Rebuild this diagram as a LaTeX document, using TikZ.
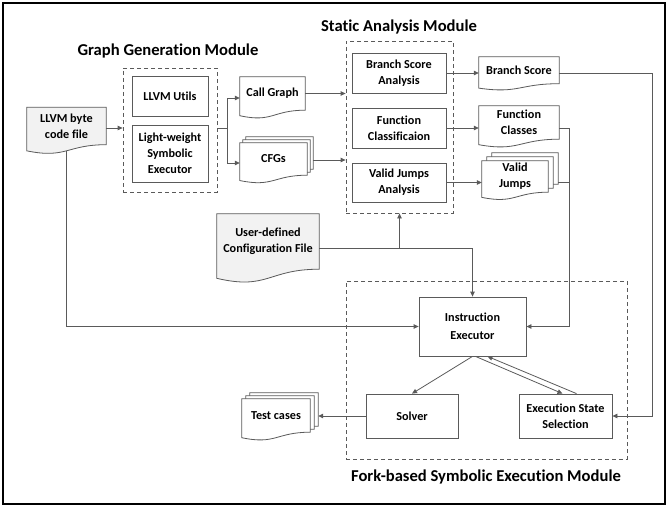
\documentclass[tikz,border=0pt]{standalone}
\usepackage{fontspec}
\setmainfont{Carlito}[Ligatures=NoCommon]
\usetikzlibrary{calc,backgrounds,arrows.meta}
\definecolor{ln}{RGB}{90,90,90}
\definecolor{docfill}{RGB}{242,242,242}
\newcommand\myboxfont{\fontsize{12.2}{15.8}\selectfont\bfseries}
\newcommand\myiefont{\fontsize{12.2}{18}\selectfont\bfseries}
\newcommand\myttlfont{\fontsize{16.6}{19}\selectfont\bfseries}
\tikzset{
 box/.style={draw=ln, line width=0.8pt, align=center, inner sep=0pt, font=\myboxfont},
 docn/.style={align=center, inner sep=0pt, font=\myboxfont},
 docline/.style={draw=ln, line width=0.8pt, fill=white},
 dashbox/.style={draw=ln, line width=0.8pt, dash pattern=on 4pt off 3pt, inner sep=0pt},
 conn/.style={draw=ln, line width=0.8pt},
 arr/.style={conn, -{Triangle[length=5pt,width=4.5pt]}},
 ttl/.style={font=\myttlfont, inner sep=0pt},
}
\newcommand\docpath[2][]{\path[docline,#1] let \p1=(#2.north west), \p2=(#2.south east) in (\p1) -- (\x2,\y1) -- (\p2) .. controls ({0.5*(\x1+\x2)},\y2) and ({0.5*(\x1+\x2)},{\y2-0.3815*(\y1-\y2)}) .. (\x1,{\y2-0.1646*(\y1-\y2)}) -- cycle;}
\begin{document}
\begin{tikzpicture}[x=1pt,y=-1pt]
\useasboundingbox (0,0) rectangle (668,508);
\draw[black, line width=2.5pt] (3,3) rectangle (665,504);

% titles
\node[ttl] (t1) at (168,51) {Graph Generation Module};
\node[ttl] (t2) at (399,27) {Static Analysis Module};
\node[ttl] (t3) at (486,477) {Fork-based Symbolic Execution Module};

% graph generation module
\node[dashbox, minimum width=94pt, minimum height=124pt] (gg) at (170,130) {};
\node[box, minimum width=76pt, minimum height=40pt] (utils) at (170,96) {LLVM Utils};
\node[box, minimum width=76pt, minimum height=57pt] (lw) at (170,153.5) {Light-weight\\Symbolic\\Executor};

% static analysis module
\node[dashbox, minimum width=107pt, minimum height=172pt] (sa) at (399.5,127) {};
\node[box, minimum width=94pt, minimum height=40pt] (bsa) at (399,73) {Branch Score\\Analysis};
\node[box, minimum width=94pt, minimum height=40pt] (fcl) at (399,128) {Function\\Classificaion};
\node[box, minimum width=94pt, minimum height=39pt] (vja) at (399,182.5) {Valid Jumps\\Analysis};

% fork-based module
\node[dashbox, minimum width=281pt, minimum height=178pt] (fork) at (486.5,370) {};
\node[box, font=\myiefont, minimum width=107pt, minimum height=59pt] (ie) at (472.5,326.5) {Instruction\\Executor};
\node[box, minimum width=92pt, minimum height=44pt] (solver) at (412,416) {Solver};
\node[box, minimum width=93pt, minimum height=44pt] (ess) at (565.5,416) {Execution State\\Selection};

% documents
\node[docn, minimum width=79pt, minimum height=37pt] (llvm) at (66.5,126) {LLVM byte\\code file};
\node[docn, minimum width=65pt, minimum height=33pt] (cg) at (272.5,93.5) {Call Graph};
\node[docn, minimum width=67pt, minimum height=32pt] (cfgs) at (273.5,159) {CFGs};
\node[docn, minimum width=67pt, minimum height=32pt] (cfgsb1) at ($(cfgs)+(3,-3)$) {};
\node[docn, minimum width=67pt, minimum height=32pt] (cfgsb2) at ($(cfgs)+(6,-6)$) {};
\node[docn, minimum width=80pt, minimum height=26.5pt] (bs) at (519,70.25) {Branch Score};
\node[docn, minimum width=80pt, minimum height=33pt] (fc) at (519,122.5) {Function\\Classes};
\node[docn, minimum width=66pt, minimum height=31pt] (vj) at (515,176.5) {Valid\\Jumps};
\node[docn, minimum width=66pt, minimum height=31pt] (vjb1) at ($(vj)+(5,-4)$) {};
\node[docn, minimum width=66pt, minimum height=31pt] (vjb2) at ($(vj)+(10,-8)$) {};
\node[docn, minimum width=102pt, minimum height=55pt] (cfg) at (268,241.5) {User-defined\\Configuration File};
\node[docn, minimum width=68pt, minimum height=33pt] (tc) at (276,415.5) {Test cases};
\node[docn, minimum width=68pt, minimum height=33pt] (tcb1) at ($(tc)+(4,-3)$) {};
\node[docn, minimum width=68pt, minimum height=33pt] (tcb2) at ($(tc)+(8,-6)$) {};

\begin{scope}[on background layer]
\docpath[fill=docfill]{llvm}
\docpath{cg}
\docpath{cfgsb2}\docpath{cfgsb1}\docpath{cfgs}
\docpath{bs}
\docpath{fc}
\docpath{vjb2}\docpath{vjb1}\docpath{vj}
\docpath[fill=docfill]{cfg}
\docpath{tcb2}\docpath{tcb1}\docpath{tc}
\end{scope}

% connectors
\draw[arr] (llvm.east |- 0,128) -- (gg.west |- 0,128);
\coordinate (split) at (227,128);
\draw[conn] (gg.east |- split) -- (split);
\draw[arr] (split) |- (cg.west |- 0,98);
\draw[arr] (split) |- (cfgs.west |- 0,163);
\draw[arr] (cg.east) -- (cg.east -| sa.west);
\draw[arr] (cfgsb2.east |- 0,160) -- (sa.west |- 0,160);
\draw[arr] (bsa.east) -- (bsa.east -| bs.west);
\draw[arr] (fcl.east) -- (fcl.east -| fc.west);
\draw[arr] (vja.east) -- (vja.east -| vj.west);
\coordinate (bus) at (569,0);
\coordinate (rbus) at (652,0);
\draw[arr] (bs.east |- bsa.east) -- (rbus |- bsa.east) -- (rbus |- ess.east) -- (ess.east);
\draw[arr] (fc.east |- fcl.east) -- (bus |- fcl.east) -- (bus |- ie.east) -- (ie.east);
\draw[conn] (vjb2.east |- vja.east) -- (bus |- vja.east);
\coordinate (cj) at (399.5,248);
\draw[arr] (cfg.east |- cj) -- (ie.north |- cj) -- (ie.north);
\draw[arr] (cj) -- (sa.south);
\draw[arr] ($(llvm.south)+(0,6)$) |- (ie.west);
\draw[arr] (ie.south) -- (solver.north);
\draw[arr] ($(ie.south)+(3,0)$) -- ($(ess.north)+(-3,0)$);
\draw[arr] ($(ess.north)+(11,0)$) -- ($(ie.south)+(15,0)$);
\draw[arr] (solver.west) -- (tcb2.east |- solver.west);
\end{tikzpicture}
\end{document}
